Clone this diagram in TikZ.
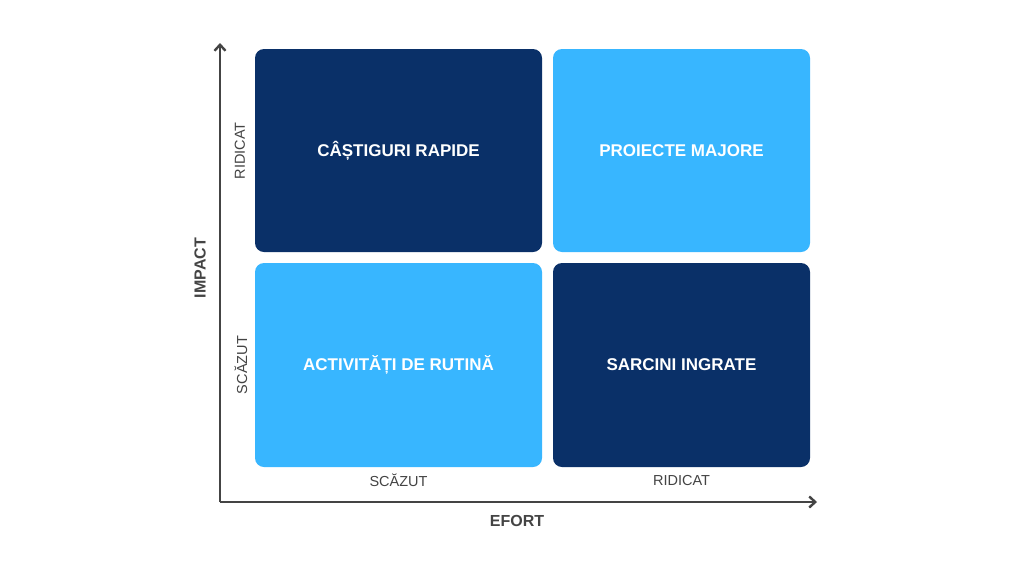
\documentclass[tikz,border=0pt]{standalone}
\usepackage{fontspec}
\setmainfont{Liberation Sans}
\usetikzlibrary{arrows.meta}
\definecolor{navy}{HTML}{0A3068}
\definecolor{sky}{HTML}{38B6FF}
\definecolor{axisgray}{HTML}{444444}
\tikzset{
  quad/.style={rounded corners=9pt, inner sep=0pt, font=\bfseries\fontsize{17}{19}\selectfont, text=white},
  axisline/.style={draw=axisgray, line width=2.8pt, -{Straight Barb[length=6pt,width=11pt,line width=2.4pt]}},
  tick/.style={text=axisgray, font=\fontsize{14.5}{16}\selectfont, inner sep=0pt},
  axlabel/.style={text=axisgray, font=\bfseries\fontsize{16}{18}\selectfont, inner sep=0pt}
}
\begin{document}
\begin{tikzpicture}[x=1pt,y=-1pt]
\useasboundingbox (0,0) rectangle (1024,576);
\fill[white] (0,0) rectangle (1024,576);
% quadrants
\node[quad, fill=navy, minimum width=287pt, minimum height=203pt] (q1) at (398.5,150.5) {CÂȘTIGURI RAPIDE};
\node[quad, fill=sky, minimum width=257pt, minimum height=203pt] (q2) at (681.5,150.5) {PROIECTE MAJORE};
\node[quad, fill=sky, minimum width=287pt, minimum height=204pt] (q3) at (398.5,365) {ACTIVITĂȚI DE RUTINĂ};
\node[quad, fill=navy, minimum width=257pt, minimum height=204pt] (q4) at (681.5,365) {SARCINI INGRATE};
% axes
\coordinate (o) at (220,502);
\coordinate (ytop) at (220,43);
\coordinate (xend) at (817,502);
\draw[axisline] (o) -- (ytop);
\draw[axisline] (o) -- (xend);
% tick labels
\node[tick, rotate=90] (yhi) at (240,151) {RIDICAT};
\node[tick, rotate=90] (ylo) at (241,365) {SCĂZUT};
\node[tick] (xlo) at (398.5,480) {SCĂZUT};
\node[tick] (xhi) at (681.5,480) {RIDICAT};
% axis titles
\node[axlabel] (efort) at (517,521) {EFORT};
\node[axlabel, rotate=90] (impact) at (200,268) {IMPACT};
\end{tikzpicture}
\end{document}
